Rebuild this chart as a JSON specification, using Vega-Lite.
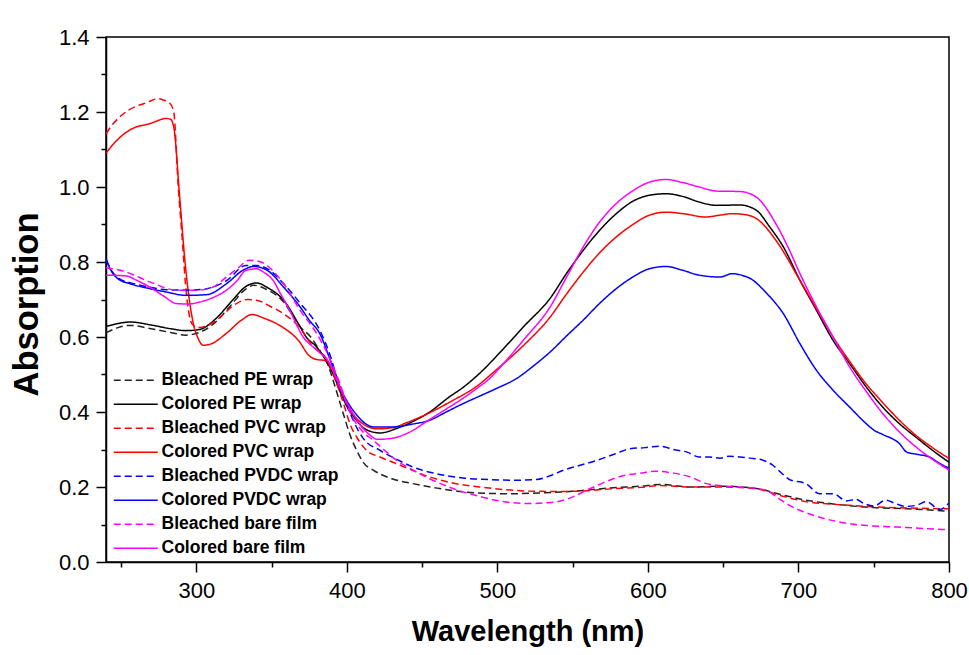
{
  "$schema": "https://vega.github.io/schema/vega-lite/v6.json",
  "width": 843,
  "height": 525,
  "autosize": "none",
  "padding": {"left": 106, "top": 37, "right": 20, "bottom": 93},
  "background": "white",
  "config": {
    "view": {"stroke": "#000", "strokeWidth": 1.5},
    "font": "Liberation Sans"
  },
  "data": {"values": [
{"s":"Bleached PE wrap","w":240,"a":0.611},{"s":"Bleached PE wrap","w":248,"a":0.625},{"s":"Bleached PE wrap","w":256,"a":0.631},{"s":"Bleached PE wrap","w":270,"a":0.622},{"s":"Bleached PE wrap","w":283,"a":0.612},{"s":"Bleached PE wrap","w":293,"a":0.605},{"s":"Bleached PE wrap","w":302,"a":0.612},{"s":"Bleached PE wrap","w":312,"a":0.637},{"s":"Bleached PE wrap","w":322,"a":0.68},{"s":"Bleached PE wrap","w":332,"a":0.725},{"s":"Bleached PE wrap","w":338,"a":0.738},{"s":"Bleached PE wrap","w":345,"a":0.73},{"s":"Bleached PE wrap","w":358,"a":0.693},{"s":"Bleached PE wrap","w":369,"a":0.627},{"s":"Bleached PE wrap","w":376,"a":0.6},{"s":"Bleached PE wrap","w":381,"a":0.57},{"s":"Bleached PE wrap","w":388,"a":0.52},{"s":"Bleached PE wrap","w":392,"a":0.47},{"s":"Bleached PE wrap","w":397.6,"a":0.396},{"s":"Bleached PE wrap","w":402,"a":0.34},{"s":"Bleached PE wrap","w":406.5,"a":0.298},{"s":"Bleached PE wrap","w":411,"a":0.265},{"s":"Bleached PE wrap","w":417.5,"a":0.245},{"s":"Bleached PE wrap","w":430,"a":0.222},{"s":"Bleached PE wrap","w":444,"a":0.209},{"s":"Bleached PE wrap","w":460,"a":0.197},{"s":"Bleached PE wrap","w":477,"a":0.187},{"s":"Bleached PE wrap","w":494,"a":0.183},{"s":"Bleached PE wrap","w":510,"a":0.182},{"s":"Bleached PE wrap","w":527,"a":0.184},{"s":"Bleached PE wrap","w":544,"a":0.187},{"s":"Bleached PE wrap","w":560,"a":0.192},{"s":"Bleached PE wrap","w":577,"a":0.198},{"s":"Bleached PE wrap","w":595,"a":0.202},{"s":"Bleached PE wrap","w":608,"a":0.207},{"s":"Bleached PE wrap","w":628,"a":0.2},{"s":"Bleached PE wrap","w":650,"a":0.202},{"s":"Bleached PE wrap","w":672,"a":0.196},{"s":"Bleached PE wrap","w":690,"a":0.178},{"s":"Bleached PE wrap","w":705,"a":0.165},{"s":"Bleached PE wrap","w":727,"a":0.153},{"s":"Bleached PE wrap","w":750,"a":0.145},{"s":"Bleached PE wrap","w":772,"a":0.142},{"s":"Bleached PE wrap","w":800,"a":0.135},
{"s":"Colored PE wrap","w":240,"a":0.628},{"s":"Colored PE wrap","w":248,"a":0.636},{"s":"Colored PE wrap","w":256,"a":0.64},{"s":"Colored PE wrap","w":270,"a":0.632},{"s":"Colored PE wrap","w":283,"a":0.622},{"s":"Colored PE wrap","w":293,"a":0.617},{"s":"Colored PE wrap","w":302,"a":0.62},{"s":"Colored PE wrap","w":313,"a":0.649},{"s":"Colored PE wrap","w":324,"a":0.698},{"s":"Colored PE wrap","w":333,"a":0.735},{"s":"Colored PE wrap","w":340,"a":0.744},{"s":"Colored PE wrap","w":348,"a":0.73},{"s":"Colored PE wrap","w":358,"a":0.698},{"s":"Colored PE wrap","w":369,"a":0.627},{"s":"Colored PE wrap","w":373,"a":0.6},{"s":"Colored PE wrap","w":380,"a":0.573},{"s":"Colored PE wrap","w":386,"a":0.538},{"s":"Colored PE wrap","w":391,"a":0.5},{"s":"Colored PE wrap","w":396,"a":0.45},{"s":"Colored PE wrap","w":400,"a":0.415},{"s":"Colored PE wrap","w":405,"a":0.385},{"s":"Colored PE wrap","w":411,"a":0.358},{"s":"Colored PE wrap","w":416,"a":0.348},{"s":"Colored PE wrap","w":422,"a":0.344},{"s":"Colored PE wrap","w":433,"a":0.356},{"s":"Colored PE wrap","w":444,"a":0.375},{"s":"Colored PE wrap","w":455,"a":0.4},{"s":"Colored PE wrap","w":468,"a":0.44},{"s":"Colored PE wrap","w":477,"a":0.465},{"s":"Colored PE wrap","w":490,"a":0.51},{"s":"Colored PE wrap","w":502,"a":0.56},{"s":"Colored PE wrap","w":518,"a":0.63},{"s":"Colored PE wrap","w":535,"a":0.703},{"s":"Colored PE wrap","w":546,"a":0.77},{"s":"Colored PE wrap","w":557,"a":0.831},{"s":"Colored PE wrap","w":568,"a":0.885},{"s":"Colored PE wrap","w":579,"a":0.929},{"s":"Colored PE wrap","w":590,"a":0.962},{"s":"Colored PE wrap","w":601,"a":0.978},{"s":"Colored PE wrap","w":612,"a":0.982},{"s":"Colored PE wrap","w":623,"a":0.975},{"s":"Colored PE wrap","w":634,"a":0.96},{"s":"Colored PE wrap","w":646,"a":0.951},{"s":"Colored PE wrap","w":661,"a":0.952},{"s":"Colored PE wrap","w":672,"a":0.938},{"s":"Colored PE wrap","w":681,"a":0.893},{"s":"Colored PE wrap","w":690,"a":0.84},{"s":"Colored PE wrap","w":701,"a":0.751},{"s":"Colored PE wrap","w":712,"a":0.671},{"s":"Colored PE wrap","w":723,"a":0.591},{"s":"Colored PE wrap","w":734,"a":0.529},{"s":"Colored PE wrap","w":745,"a":0.467},{"s":"Colored PE wrap","w":756,"a":0.413},{"s":"Colored PE wrap","w":767,"a":0.369},{"s":"Colored PE wrap","w":778,"a":0.333},{"s":"Colored PE wrap","w":789,"a":0.298},{"s":"Colored PE wrap","w":800,"a":0.266},
{"s":"Bleached PVC wrap","w":240,"a":1.142},{"s":"Bleached PVC wrap","w":245,"a":1.17},{"s":"Bleached PVC wrap","w":250,"a":1.19},{"s":"Bleached PVC wrap","w":255,"a":1.205},{"s":"Bleached PVC wrap","w":260,"a":1.215},{"s":"Bleached PVC wrap","w":265,"a":1.222},{"s":"Bleached PVC wrap","w":270,"a":1.23},{"s":"Bleached PVC wrap","w":274,"a":1.236},{"s":"Bleached PVC wrap","w":278,"a":1.232},{"s":"Bleached PVC wrap","w":282,"a":1.225},{"s":"Bleached PVC wrap","w":285,"a":1.2},{"s":"Bleached PVC wrap","w":288,"a":1.0},{"s":"Bleached PVC wrap","w":290.2,"a":0.885},{"s":"Bleached PVC wrap","w":293.6,"a":0.707},{"s":"Bleached PVC wrap","w":297,"a":0.636},{"s":"Bleached PVC wrap","w":301,"a":0.625},{"s":"Bleached PVC wrap","w":306,"a":0.628},{"s":"Bleached PVC wrap","w":315,"a":0.65},{"s":"Bleached PVC wrap","w":325,"a":0.685},{"s":"Bleached PVC wrap","w":334,"a":0.7},{"s":"Bleached PVC wrap","w":340,"a":0.698},{"s":"Bleached PVC wrap","w":350,"a":0.68},{"s":"Bleached PVC wrap","w":358,"a":0.662},{"s":"Bleached PVC wrap","w":368,"a":0.628},{"s":"Bleached PVC wrap","w":378,"a":0.573},{"s":"Bleached PVC wrap","w":386,"a":0.545},{"s":"Bleached PVC wrap","w":392,"a":0.49},{"s":"Bleached PVC wrap","w":398,"a":0.42},{"s":"Bleached PVC wrap","w":402,"a":0.369},{"s":"Bleached PVC wrap","w":407,"a":0.33},{"s":"Bleached PVC wrap","w":413,"a":0.298},{"s":"Bleached PVC wrap","w":422,"a":0.28},{"s":"Bleached PVC wrap","w":433,"a":0.262},{"s":"Bleached PVC wrap","w":444,"a":0.244},{"s":"Bleached PVC wrap","w":455,"a":0.227},{"s":"Bleached PVC wrap","w":471,"a":0.21},{"s":"Bleached PVC wrap","w":488,"a":0.2},{"s":"Bleached PVC wrap","w":505,"a":0.193},{"s":"Bleached PVC wrap","w":521,"a":0.189},{"s":"Bleached PVC wrap","w":538,"a":0.188},{"s":"Bleached PVC wrap","w":555,"a":0.189},{"s":"Bleached PVC wrap","w":575,"a":0.195},{"s":"Bleached PVC wrap","w":595,"a":0.199},{"s":"Bleached PVC wrap","w":608,"a":0.204},{"s":"Bleached PVC wrap","w":628,"a":0.2},{"s":"Bleached PVC wrap","w":650,"a":0.2},{"s":"Bleached PVC wrap","w":672,"a":0.195},{"s":"Bleached PVC wrap","w":690,"a":0.175},{"s":"Bleached PVC wrap","w":705,"a":0.161},{"s":"Bleached PVC wrap","w":727,"a":0.153},{"s":"Bleached PVC wrap","w":750,"a":0.147},{"s":"Bleached PVC wrap","w":772,"a":0.144},{"s":"Bleached PVC wrap","w":800,"a":0.142},
{"s":"Colored PVC wrap","w":240,"a":1.09},{"s":"Colored PVC wrap","w":245,"a":1.115},{"s":"Colored PVC wrap","w":250,"a":1.135},{"s":"Colored PVC wrap","w":255,"a":1.15},{"s":"Colored PVC wrap","w":260,"a":1.16},{"s":"Colored PVC wrap","w":265,"a":1.165},{"s":"Colored PVC wrap","w":270,"a":1.17},{"s":"Colored PVC wrap","w":275,"a":1.178},{"s":"Colored PVC wrap","w":280,"a":1.183},{"s":"Colored PVC wrap","w":283,"a":1.18},{"s":"Colored PVC wrap","w":285,"a":1.16},{"s":"Colored PVC wrap","w":289,"a":0.97},{"s":"Colored PVC wrap","w":292.5,"a":0.8},{"s":"Colored PVC wrap","w":298,"a":0.636},{"s":"Colored PVC wrap","w":301,"a":0.598},{"s":"Colored PVC wrap","w":304.5,"a":0.578},{"s":"Colored PVC wrap","w":310,"a":0.582},{"s":"Colored PVC wrap","w":320,"a":0.61},{"s":"Colored PVC wrap","w":330,"a":0.645},{"s":"Colored PVC wrap","w":337,"a":0.66},{"s":"Colored PVC wrap","w":345,"a":0.65},{"s":"Colored PVC wrap","w":357,"a":0.627},{"s":"Colored PVC wrap","w":368,"a":0.59},{"s":"Colored PVC wrap","w":375,"a":0.55},{"s":"Colored PVC wrap","w":380,"a":0.54},{"s":"Colored PVC wrap","w":386,"a":0.537},{"s":"Colored PVC wrap","w":392,"a":0.5},{"s":"Colored PVC wrap","w":398,"a":0.44},{"s":"Colored PVC wrap","w":405,"a":0.39},{"s":"Colored PVC wrap","w":412,"a":0.365},{"s":"Colored PVC wrap","w":420,"a":0.355},{"s":"Colored PVC wrap","w":430,"a":0.358},{"s":"Colored PVC wrap","w":440,"a":0.372},{"s":"Colored PVC wrap","w":455,"a":0.398},{"s":"Colored PVC wrap","w":470,"a":0.43},{"s":"Colored PVC wrap","w":485,"a":0.465},{"s":"Colored PVC wrap","w":500,"a":0.515},{"s":"Colored PVC wrap","w":518,"a":0.58},{"s":"Colored PVC wrap","w":535,"a":0.653},{"s":"Colored PVC wrap","w":546,"a":0.715},{"s":"Colored PVC wrap","w":557,"a":0.773},{"s":"Colored PVC wrap","w":568,"a":0.825},{"s":"Colored PVC wrap","w":579,"a":0.867},{"s":"Colored PVC wrap","w":590,"a":0.9},{"s":"Colored PVC wrap","w":601,"a":0.925},{"s":"Colored PVC wrap","w":612,"a":0.933},{"s":"Colored PVC wrap","w":625,"a":0.928},{"s":"Colored PVC wrap","w":638,"a":0.92},{"s":"Colored PVC wrap","w":648,"a":0.925},{"s":"Colored PVC wrap","w":656,"a":0.929},{"s":"Colored PVC wrap","w":665,"a":0.926},{"s":"Colored PVC wrap","w":672,"a":0.916},{"s":"Colored PVC wrap","w":685,"a":0.858},{"s":"Colored PVC wrap","w":701,"a":0.751},{"s":"Colored PVC wrap","w":712,"a":0.675},{"s":"Colored PVC wrap","w":723,"a":0.6},{"s":"Colored PVC wrap","w":734,"a":0.535},{"s":"Colored PVC wrap","w":745,"a":0.475},{"s":"Colored PVC wrap","w":756,"a":0.425},{"s":"Colored PVC wrap","w":767,"a":0.378},{"s":"Colored PVC wrap","w":778,"a":0.338},{"s":"Colored PVC wrap","w":789,"a":0.305},{"s":"Colored PVC wrap","w":800,"a":0.276},
{"s":"Bleached PVDC wrap","w":240,"a":0.805},{"s":"Bleached PVDC wrap","w":244,"a":0.775},{"s":"Bleached PVDC wrap","w":249,"a":0.755},{"s":"Bleached PVDC wrap","w":256,"a":0.745},{"s":"Bleached PVDC wrap","w":269,"a":0.733},{"s":"Bleached PVDC wrap","w":280,"a":0.726},{"s":"Bleached PVDC wrap","w":293.6,"a":0.725},{"s":"Bleached PVDC wrap","w":307,"a":0.729},{"s":"Bleached PVDC wrap","w":320,"a":0.75},{"s":"Bleached PVDC wrap","w":333,"a":0.791},{"s":"Bleached PVDC wrap","w":340,"a":0.791},{"s":"Bleached PVDC wrap","w":348,"a":0.78},{"s":"Bleached PVDC wrap","w":358,"a":0.742},{"s":"Bleached PVDC wrap","w":369,"a":0.69},{"s":"Bleached PVDC wrap","w":382,"a":0.618},{"s":"Bleached PVDC wrap","w":389,"a":0.55},{"s":"Bleached PVDC wrap","w":395,"a":0.47},{"s":"Bleached PVDC wrap","w":400,"a":0.42},{"s":"Bleached PVDC wrap","w":404,"a":0.38},{"s":"Bleached PVDC wrap","w":411,"a":0.329},{"s":"Bleached PVDC wrap","w":422,"a":0.298},{"s":"Bleached PVDC wrap","w":433,"a":0.274},{"s":"Bleached PVDC wrap","w":444,"a":0.253},{"s":"Bleached PVDC wrap","w":460,"a":0.235},{"s":"Bleached PVDC wrap","w":477,"a":0.224},{"s":"Bleached PVDC wrap","w":494,"a":0.22},{"s":"Bleached PVDC wrap","w":510,"a":0.218},{"s":"Bleached PVDC wrap","w":526,"a":0.22},{"s":"Bleached PVDC wrap","w":535,"a":0.23},{"s":"Bleached PVDC wrap","w":544,"a":0.245},{"s":"Bleached PVDC wrap","w":555,"a":0.258},{"s":"Bleached PVDC wrap","w":566,"a":0.271},{"s":"Bleached PVDC wrap","w":578,"a":0.288},{"s":"Bleached PVDC wrap","w":588,"a":0.302},{"s":"Bleached PVDC wrap","w":598,"a":0.305},{"s":"Bleached PVDC wrap","w":608,"a":0.309},{"s":"Bleached PVDC wrap","w":617,"a":0.3},{"s":"Bleached PVDC wrap","w":626,"a":0.293},{"s":"Bleached PVDC wrap","w":634,"a":0.28},{"s":"Bleached PVDC wrap","w":641,"a":0.28},{"s":"Bleached PVDC wrap","w":648,"a":0.277},{"s":"Bleached PVDC wrap","w":654,"a":0.282},{"s":"Bleached PVDC wrap","w":661,"a":0.28},{"s":"Bleached PVDC wrap","w":668,"a":0.277},{"s":"Bleached PVDC wrap","w":676,"a":0.272},{"s":"Bleached PVDC wrap","w":683,"a":0.258},{"s":"Bleached PVDC wrap","w":688,"a":0.24},{"s":"Bleached PVDC wrap","w":694,"a":0.22},{"s":"Bleached PVDC wrap","w":705,"a":0.209},{"s":"Bleached PVDC wrap","w":714,"a":0.182},{"s":"Bleached PVDC wrap","w":723,"a":0.182},{"s":"Bleached PVDC wrap","w":732,"a":0.163},{"s":"Bleached PVDC wrap","w":738,"a":0.167},{"s":"Bleached PVDC wrap","w":744,"a":0.155},{"s":"Bleached PVDC wrap","w":750,"a":0.149},{"s":"Bleached PVDC wrap","w":758,"a":0.165},{"s":"Bleached PVDC wrap","w":765,"a":0.155},{"s":"Bleached PVDC wrap","w":772,"a":0.148},{"s":"Bleached PVDC wrap","w":779,"a":0.152},{"s":"Bleached PVDC wrap","w":785,"a":0.161},{"s":"Bleached PVDC wrap","w":794,"a":0.14},{"s":"Bleached PVDC wrap","w":800,"a":0.157},
{"s":"Colored PVDC wrap","w":240,"a":0.81},{"s":"Colored PVDC wrap","w":243,"a":0.78},{"s":"Colored PVDC wrap","w":248,"a":0.755},{"s":"Colored PVDC wrap","w":256,"a":0.742},{"s":"Colored PVDC wrap","w":269,"a":0.729},{"s":"Colored PVDC wrap","w":280,"a":0.72},{"s":"Colored PVDC wrap","w":293,"a":0.711},{"s":"Colored PVDC wrap","w":307,"a":0.713},{"s":"Colored PVDC wrap","w":320,"a":0.742},{"s":"Colored PVDC wrap","w":331,"a":0.778},{"s":"Colored PVDC wrap","w":338,"a":0.788},{"s":"Colored PVDC wrap","w":347,"a":0.778},{"s":"Colored PVDC wrap","w":358,"a":0.733},{"s":"Colored PVDC wrap","w":369,"a":0.68},{"s":"Colored PVDC wrap","w":375,"a":0.645},{"s":"Colored PVDC wrap","w":382,"a":0.609},{"s":"Colored PVDC wrap","w":389,"a":0.538},{"s":"Colored PVDC wrap","w":395,"a":0.47},{"s":"Colored PVDC wrap","w":400,"a":0.43},{"s":"Colored PVDC wrap","w":406,"a":0.395},{"s":"Colored PVDC wrap","w":412,"a":0.37},{"s":"Colored PVDC wrap","w":418,"a":0.36},{"s":"Colored PVDC wrap","w":430,"a":0.36},{"s":"Colored PVDC wrap","w":444,"a":0.368},{"s":"Colored PVDC wrap","w":455,"a":0.378},{"s":"Colored PVDC wrap","w":466,"a":0.4},{"s":"Colored PVDC wrap","w":477,"a":0.422},{"s":"Colored PVDC wrap","w":488,"a":0.442},{"s":"Colored PVDC wrap","w":499,"a":0.462},{"s":"Colored PVDC wrap","w":513,"a":0.49},{"s":"Colored PVDC wrap","w":524,"a":0.523},{"s":"Colored PVDC wrap","w":535,"a":0.56},{"s":"Colored PVDC wrap","w":546,"a":0.603},{"s":"Colored PVDC wrap","w":557,"a":0.645},{"s":"Colored PVDC wrap","w":568,"a":0.69},{"s":"Colored PVDC wrap","w":579,"a":0.729},{"s":"Colored PVDC wrap","w":590,"a":0.76},{"s":"Colored PVDC wrap","w":601,"a":0.782},{"s":"Colored PVDC wrap","w":612,"a":0.788},{"s":"Colored PVDC wrap","w":623,"a":0.778},{"s":"Colored PVDC wrap","w":634,"a":0.765},{"s":"Colored PVDC wrap","w":648,"a":0.76},{"s":"Colored PVDC wrap","w":656,"a":0.769},{"s":"Colored PVDC wrap","w":662,"a":0.765},{"s":"Colored PVDC wrap","w":668,"a":0.756},{"s":"Colored PVDC wrap","w":679,"a":0.716},{"s":"Colored PVDC wrap","w":690,"a":0.662},{"s":"Colored PVDC wrap","w":701,"a":0.582},{"s":"Colored PVDC wrap","w":712,"a":0.511},{"s":"Colored PVDC wrap","w":723,"a":0.458},{"s":"Colored PVDC wrap","w":734,"a":0.413},{"s":"Colored PVDC wrap","w":745,"a":0.369},{"s":"Colored PVDC wrap","w":750,"a":0.352},{"s":"Colored PVDC wrap","w":756,"a":0.34},{"s":"Colored PVDC wrap","w":767,"a":0.316},{"s":"Colored PVDC wrap","w":772,"a":0.293},{"s":"Colored PVDC wrap","w":779,"a":0.287},{"s":"Colored PVDC wrap","w":787,"a":0.28},{"s":"Colored PVDC wrap","w":793,"a":0.265},{"s":"Colored PVDC wrap","w":800,"a":0.25},
{"s":"Bleached bare film","w":240,"a":0.785},{"s":"Bleached bare film","w":253,"a":0.774},{"s":"Bleached bare film","w":269,"a":0.747},{"s":"Bleached bare film","w":287,"a":0.725},{"s":"Bleached bare film","w":302,"a":0.725},{"s":"Bleached bare film","w":312,"a":0.735},{"s":"Bleached bare film","w":320,"a":0.76},{"s":"Bleached bare film","w":328,"a":0.785},{"s":"Bleached bare film","w":335,"a":0.805},{"s":"Bleached bare film","w":343,"a":0.8},{"s":"Bleached bare film","w":350,"a":0.78},{"s":"Bleached bare film","w":358,"a":0.742},{"s":"Bleached bare film","w":369,"a":0.671},{"s":"Bleached bare film","w":380,"a":0.609},{"s":"Bleached bare film","w":390,"a":0.53},{"s":"Bleached bare film","w":395,"a":0.48},{"s":"Bleached bare film","w":402,"a":0.4},{"s":"Bleached bare film","w":410,"a":0.35},{"s":"Bleached bare film","w":417.5,"a":0.3245},{"s":"Bleached bare film","w":425,"a":0.298},{"s":"Bleached bare film","w":433,"a":0.271},{"s":"Bleached bare film","w":444,"a":0.245},{"s":"Bleached bare film","w":455,"a":0.222},{"s":"Bleached bare film","w":466,"a":0.203},{"s":"Bleached bare film","w":477,"a":0.187},{"s":"Bleached bare film","w":488,"a":0.175},{"s":"Bleached bare film","w":499,"a":0.1645},{"s":"Bleached bare film","w":510,"a":0.158},{"s":"Bleached bare film","w":521,"a":0.156},{"s":"Bleached bare film","w":533,"a":0.158},{"s":"Bleached bare film","w":544,"a":0.1645},{"s":"Bleached bare film","w":552,"a":0.177},{"s":"Bleached bare film","w":559,"a":0.191},{"s":"Bleached bare film","w":568,"a":0.207},{"s":"Bleached bare film","w":577,"a":0.222},{"s":"Bleached bare film","w":586,"a":0.232},{"s":"Bleached bare film","w":595,"a":0.237},{"s":"Bleached bare film","w":605,"a":0.242},{"s":"Bleached bare film","w":617,"a":0.237},{"s":"Bleached bare film","w":628,"a":0.227},{"s":"Bleached bare film","w":639,"a":0.209},{"s":"Bleached bare film","w":650,"a":0.203},{"s":"Bleached bare film","w":661,"a":0.2},{"s":"Bleached bare film","w":670,"a":0.197},{"s":"Bleached bare film","w":679,"a":0.191},{"s":"Bleached bare film","w":686,"a":0.172},{"s":"Bleached bare film","w":694,"a":0.151},{"s":"Bleached bare film","w":702,"a":0.136},{"s":"Bleached bare film","w":710,"a":0.1245},{"s":"Bleached bare film","w":718,"a":0.115},{"s":"Bleached bare film","w":727,"a":0.107},{"s":"Bleached bare film","w":738,"a":0.1},{"s":"Bleached bare film","w":750,"a":0.096},{"s":"Bleached bare film","w":760,"a":0.094},{"s":"Bleached bare film","w":772,"a":0.092},{"s":"Bleached bare film","w":785,"a":0.089},{"s":"Bleached bare film","w":800,"a":0.086},
{"s":"Colored bare film","w":240,"a":0.765},{"s":"Colored bare film","w":253,"a":0.763},{"s":"Colored bare film","w":260,"a":0.752},{"s":"Colored bare film","w":269,"a":0.733},{"s":"Colored bare film","w":278,"a":0.71},{"s":"Colored bare film","w":287,"a":0.689},{"s":"Colored bare film","w":295,"a":0.688},{"s":"Colored bare film","w":302,"a":0.693},{"s":"Colored bare film","w":311,"a":0.705},{"s":"Colored bare film","w":320,"a":0.725},{"s":"Colored bare film","w":327,"a":0.75},{"s":"Colored bare film","w":333,"a":0.778},{"s":"Colored bare film","w":340,"a":0.782},{"s":"Colored bare film","w":345,"a":0.772},{"s":"Colored bare film","w":351,"a":0.751},{"s":"Colored bare film","w":356,"a":0.715},{"s":"Colored bare film","w":362,"a":0.671},{"s":"Colored bare film","w":371,"a":0.6},{"s":"Colored bare film","w":380,"a":0.565},{"s":"Colored bare film","w":388.7,"a":0.529},{"s":"Colored bare film","w":395,"a":0.47},{"s":"Colored bare film","w":400,"a":0.425},{"s":"Colored bare film","w":405,"a":0.39},{"s":"Colored bare film","w":410,"a":0.36},{"s":"Colored bare film","w":415,"a":0.34},{"s":"Colored bare film","w":420,"a":0.327},{"s":"Colored bare film","w":430,"a":0.33},{"s":"Colored bare film","w":440,"a":0.343},{"s":"Colored bare film","w":455,"a":0.38},{"s":"Colored bare film","w":466,"a":0.408},{"s":"Colored bare film","w":477,"a":0.436},{"s":"Colored bare film","w":486,"a":0.462},{"s":"Colored bare film","w":495,"a":0.49},{"s":"Colored bare film","w":502,"a":0.52},{"s":"Colored bare film","w":518,"a":0.595},{"s":"Colored bare film","w":535,"a":0.68},{"s":"Colored bare film","w":546,"a":0.76},{"s":"Colored bare film","w":557,"a":0.84},{"s":"Colored bare film","w":568,"a":0.907},{"s":"Colored bare film","w":579,"a":0.956},{"s":"Colored bare film","w":590,"a":0.99},{"s":"Colored bare film","w":601,"a":1.013},{"s":"Colored bare film","w":612,"a":1.02},{"s":"Colored bare film","w":623,"a":1.012},{"s":"Colored bare film","w":634,"a":1.0},{"s":"Colored bare film","w":646,"a":0.989},{"s":"Colored bare film","w":661,"a":0.988},{"s":"Colored bare film","w":672,"a":0.973},{"s":"Colored bare film","w":685,"a":0.902},{"s":"Colored bare film","w":693,"a":0.84},{"s":"Colored bare film","w":701,"a":0.769},{"s":"Colored bare film","w":712,"a":0.68},{"s":"Colored bare film","w":723,"a":0.6},{"s":"Colored bare film","w":734,"a":0.52},{"s":"Colored bare film","w":745,"a":0.455},{"s":"Colored bare film","w":756,"a":0.396},{"s":"Colored bare film","w":767,"a":0.347},{"s":"Colored bare film","w":778,"a":0.307},{"s":"Colored bare film","w":789,"a":0.274},{"s":"Colored bare film","w":800,"a":0.245}
  ]},
  "mark": {"type": "line", "strokeWidth": 1.5, "clip": true, "interpolate": "monotone"},
  "encoding": {
    "x": {
      "field": "w", "type": "quantitative",
      "scale": {"domain": [240, 800], "nice": false, "zero": false},
      "axis": {
        "title": "Wavelength (nm)",
        "values": [250, 300, 350, 400, 450, 500, 550, 600, 650, 700, 750, 800],
        "labelExpr": "datum.value % 100 === 0 ? datum.label : ''",
        "grid": false,
        "domainColor": "#000", "domainWidth": 1.5,
        "tickColor": "#000", "tickWidth": 1.5,
        "tickSize": {"condition": {"test": "datum.value % 100 !== 0", "value": 5}, "value": 10},
        "labelFont": "Liberation Sans", "labelFontSize": 22, "labelColor": "#000",
        "labelPadding": 8, "labelFlush": false, "labelOverlap": false,
        "titleFont": "Liberation Sans", "titleFontSize": 29, "titleFontWeight": "bold", "titleColor": "#000",
        "titleBaseline": "alphabetic", "titleY": 78
      }
    },
    "y": {
      "field": "a", "type": "quantitative",
      "scale": {"domain": [0, 1.4], "nice": false, "zero": false},
      "axis": {
        "title": "Absorption",
        "values": [0, 0.1, 0.2, 0.3, 0.4, 0.5, 0.6, 0.7, 0.8, 0.9, 1.0, 1.1, 1.2, 1.3, 1.4],
        "format": ".1f",
        "labelExpr": "round(datum.value * 10) % 2 === 0 ? datum.label : ''",
        "grid": false,
        "domainColor": "#000", "domainWidth": 1.5,
        "tickColor": "#000", "tickWidth": 1.5,
        "tickSize": {"condition": {"test": "round(datum.value * 10) % 2 !== 0", "value": 5}, "value": 10},
        "labelFont": "Liberation Sans", "labelFontSize": 22, "labelColor": "#000",
        "labelPadding": 7, "labelFlush": false, "labelOverlap": false,
        "titleFont": "Liberation Sans", "titleFontSize": 34.5, "titleFontWeight": "bold", "titleColor": "#000",
        "titleX": -62, "titleY": 267
      }
    },
    "color": {
      "field": "s", "type": "nominal",
      "scale": {
        "domain": ["Bleached PE wrap", "Colored PE wrap", "Bleached PVC wrap", "Colored PVC wrap", "Bleached PVDC wrap", "Colored PVDC wrap", "Bleached bare film", "Colored bare film"],
        "range": ["#222222", "#000000", "#ff0000", "#ff0000", "#0000ff", "#0000ff", "#ff00ff", "#ff00ff"]
      },
      "legend": {
        "title": null,
        "orient": "none", "legendX": 21, "legendY": 334.5,
        "padding": 0,
        "symbolType": "M-4,0H4", "symbolSize": 121, "symbolStrokeWidth": 1.5,
        "labelFont": "Liberation Sans", "labelFontSize": 17.5, "labelFontWeight": "bold", "labelColor": "#000",
        "labelOffset": 17, "rowPadding": 5, "labelLimit": 300
      }
    },
    "strokeDash": {
      "field": "s", "type": "nominal",
      "scale": {
        "domain": ["Bleached PE wrap", "Colored PE wrap", "Bleached PVC wrap", "Colored PVC wrap", "Bleached PVDC wrap", "Colored PVDC wrap", "Bleached bare film", "Colored bare film"],
        "range": [[7, 4], [1, 0], [7, 4], [1, 0], [7, 4], [1, 0], [7, 4], [1, 0]]
      },
      "legend": {
        "title": null,
        "orient": "none", "legendX": 21, "legendY": 334.5,
        "padding": 0,
        "symbolType": "M-4,0H4", "symbolSize": 121, "symbolStrokeWidth": 1.5,
        "labelFont": "Liberation Sans", "labelFontSize": 17.5, "labelFontWeight": "bold", "labelColor": "#000",
        "labelOffset": 17, "rowPadding": 5, "labelLimit": 300
      }
    }
  }
}
